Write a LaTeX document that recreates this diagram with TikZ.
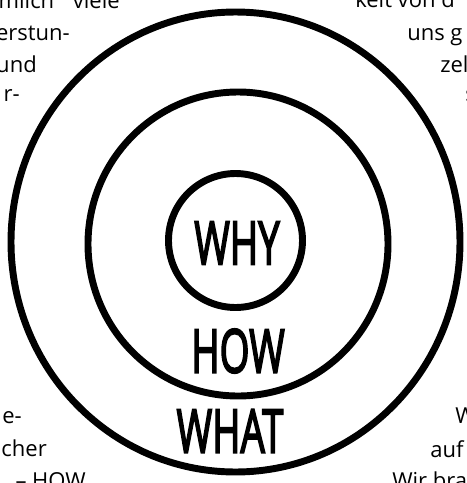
\documentclass[tikz,border=0pt]{standalone}
\usepackage{fontspec}
\setmainfont{Open Sans}
\newfontfamily\handfont[FakeBold=3.5]{Open Sans}
\usetikzlibrary{positioning}

\begin{document}
\begin{tikzpicture}[x=0.75pt, y=-0.75pt,
  ring/.style={line width=5.2pt},
  hand/.style={font=\fontsize{45}{45}\handfont, xscale=0.64, inner sep=0pt},
  frag/.style={font=\fontsize{16.5}{16.5}\selectfont, inner sep=0pt}]
  \useasboundingbox (0,0) rectangle (467,483);
  \fill[white] (0,0) rectangle (467,483);
  \clip (0,0) rectangle (467,483);

  % Kreise
  \draw[ring] (235.5,242) ellipse [x radius=224.5, y radius=230];
  \draw[ring] (238,244) ellipse [x radius=150, y radius=152];
  \draw[ring] (235.5,240.5) ellipse [x radius=67, y radius=67];

  % Beschriftung
  \node[hand] (why) at (237,243) {WHY};
  \node[hand] (how) at (238,351) {HOW};
  \node[hand] (what) at (230,431) {WHAT};

  % Textreste links oben
  \node[frag, anchor=base east] (tl1) at (120,8) {mlich\hspace{14pt}viele};
  \node[frag, anchor=base east] (tl2) at (70,40) {erstun-};
  \node[frag, anchor=base east] (tl3) at (37,72) {und};
  \node[frag, anchor=base east] (tl4) at (20,101) {r-};

  % Textreste rechts oben
  \node[frag, anchor=base west] (tr1) at (355,7) {keit von d};
  \node[frag, anchor=base west] (tr2) at (407,40) {uns g};
  \node[frag, anchor=base west] (tr3) at (440,72) {zel};
  \node[frag, anchor=base west] (tr4) at (465,101) {s};

  % Textreste links unten
  \node[frag, anchor=base east] (bl1) at (22,423) {e-};
  \node[frag, anchor=base east] (bl2) at (47,456) {cher};
  \node[frag, anchor=base east] (bl3) at (86,488) {– HOW};

  % Textreste rechts unten
  \node[frag, anchor=base west] (br1) at (455,423) {W};
  \node[frag, anchor=base west] (br2) at (430,457) {auf};
  \node[frag, anchor=base west] (br3) at (392,488) {Wir bra};
\end{tikzpicture}
\end{document}
